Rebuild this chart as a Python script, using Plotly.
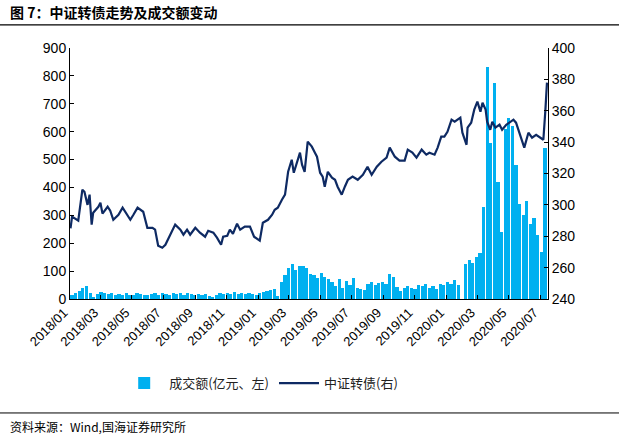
import plotly.graph_objects as go
import pandas as pd

# weekly turnover (亿元), Friday of each week starting 2018-01-05
bar_start = "2018-01-05"
turnover = [
    15, 20, 28, 40, 45, 22, 8, 18, 25, 20, 18, 22, 15, 18, 14, 20, 16, 15, 20, 17,
    13, 14, 18, 22, 16, 20, 18, 15, 21, 17, 20, 16, 22, 18, 15, 17, 14, 19, 12, 8,
    16, 20, 18, 22, 19, 24, 18, 20, 17, 22, 19, 15,
    22, 25, 28, 32, 35, 10, 60, 85, 110, 125, 105, 118, 120, 110, 90, 85, 75, 92,
    80, 70, 60, 45, 70, 40, 65, 50, 75, 40, 35, 32, 55, 60, 52, 58, 62, 55, 88, 80,
    42, 30, 38, 45, 40, 35, 50, 45, 55, 40, 48, 35, 55, 50,
    60, 55, 68, 50, None, 125, 140, 130, 150, 165, 330, 833, 560, 775, 420, 240,
    610, 650, 620, 480, 340, 300, 350, 270, 290, 230, 170, 540,
]

# 中证转债 index
index_dates = [
    "2018-01-02", "2018-01-05", "2018-01-17", "2018-01-25", "2018-01-29", "2018-02-04",
    "2018-02-08", "2018-02-12", "2018-02-15", "2018-02-25", "2018-03-01", "2018-03-05",
    "2018-03-15", "2018-03-20", "2018-03-26", "2018-04-05", "2018-04-13", "2018-04-22",
    "2018-04-28", "2018-05-04", "2018-05-12", "2018-05-23", "2018-05-31", "2018-06-10",
    "2018-06-15", "2018-06-21", "2018-06-29", "2018-07-05", "2018-07-14", "2018-07-24",
    "2018-08-03", "2018-08-09", "2018-08-16", "2018-08-22", "2018-09-01", "2018-09-10",
    "2018-09-20", "2018-09-26", "2018-10-06", "2018-10-13", "2018-10-21", "2018-10-25",
    "2018-11-02", "2018-11-07", "2018-11-13", "2018-11-21", "2018-11-27", "2018-12-06",
    "2018-12-16", "2018-12-24", "2019-01-04", "2019-01-10", "2019-01-20", "2019-01-28",
    "2019-02-02", "2019-02-08", "2019-02-16", "2019-02-22", "2019-02-28", "2019-03-07",
    "2019-03-11", "2019-03-17", "2019-03-23", "2019-03-27", "2019-04-01", "2019-04-07",
    "2019-04-15", "2019-04-21", "2019-04-25", "2019-05-01", "2019-05-06", "2019-05-10",
    "2019-05-16", "2019-05-24", "2019-05-30", "2019-06-04", "2019-06-12", "2019-06-18",
    "2019-06-24", "2019-07-03", "2019-07-13", "2019-07-23", "2019-08-01", "2019-08-09",
    "2019-08-19", "2019-08-28", "2019-09-07", "2019-09-13", "2019-09-23", "2019-10-02",
    "2019-10-12", "2019-10-18", "2019-10-27", "2019-11-04", "2019-11-14", "2019-11-23",
    "2019-11-29", "2019-12-09", "2019-12-15", "2019-12-22", "2019-12-28", "2020-01-03",
    "2020-01-11", "2020-01-17", "2020-01-22", "2020-01-28", "2020-02-01", "2020-02-09",
    "2020-02-11", "2020-02-18", "2020-02-24", "2020-03-01", "2020-03-07", "2020-03-11",
    "2020-03-17", "2020-03-20", "2020-03-26", "2020-03-30", "2020-04-05", "2020-04-13",
    "2020-04-18", "2020-04-26", "2020-05-02", "2020-05-10", "2020-05-15", "2020-05-21",
    "2020-05-31", "2020-06-08", "2020-06-15", "2020-06-23", "2020-06-29", "2020-07-07",
    "2020-07-11", "2020-07-14",
]
index_values = [
    285, 292.5, 290, 309.7, 308.4, 300, 306.5, 287.4, 295, 298.8, 301.4, 294.4,
    298.8, 296.3, 290.5, 293.7, 298.2, 293.7, 290.5, 293.7, 298.2, 295.6, 285.4, 285.4,
    284.2, 274, 272.7, 274.6, 281, 287.4, 284.2, 281, 284.2, 281, 285.4, 282.3,
    279.7, 283.5, 282.3, 279.1, 274.6, 279.7, 280.3, 284.2, 281.6, 288, 284.2, 286.1,
    286.1, 279.7, 277.2, 288.6, 290.5, 293.7, 296.9, 298.2, 303.3, 306.5, 321.1, 328.8,
    320.5, 327.5, 333.3, 325.6, 321.1, 340.3, 337.1, 333.3, 330.7, 320.5, 318, 311.6,
    321.1, 317.3, 316, 311.6, 306.5, 311.6, 316, 318, 316, 319.2, 324.3, 319.2,
    324.3, 327.5, 330.1, 336.5, 330.7, 328.2, 328.2, 335.2, 333.3, 330.1, 335.2, 332,
    333.2, 332, 336.5, 343.5, 343.5, 346.6, 354.3, 353, 354.3, 355.6, 346, 338.3,
    349.2, 352.4, 360.7, 365.8, 359.4, 365.1, 360.7, 353, 347.9, 353, 349.2, 351.1,
    347.9, 351.1, 352.4, 354.3, 352.4, 346.6, 336.5, 346, 342.8, 344.7, 343.5, 341.5,
    360.7, 377.9,
]

BAR_COLOR = "#00B0F0"
LINE_COLOR = "#0E2A63"
NUM_FONT = "Arial, Liberation Sans, sans-serif"
CJK_FONT = "Noto Sans CJK SC"

bar_dates = pd.date_range(bar_start, periods=len(turnover), freq="7D")

fig = go.Figure()
fig.add_trace(go.Bar(
    x=bar_dates, y=turnover, name="成交额(亿元、左)",
    marker=dict(color=BAR_COLOR, line=dict(width=0)),
    width=6.2 * 86400000,
))
fig.add_trace(go.Scatter(
    x=index_dates, y=index_values, name="中证转债(右)", yaxis="y2",
    mode="lines", line=dict(color=LINE_COLOR, width=2.2),
))

fig.update_layout(
    width=619, height=438,
    margin=dict(l=70, r=71, t=48, b=139),
    paper_bgcolor="white", plot_bgcolor="white",
    showlegend=True,
    legend=dict(orientation="h", x=0.40, xanchor="center", y=-0.335, yanchor="middle",
                font=dict(family=CJK_FONT, size=13, color="#222"), itemwidth=40),
    xaxis=dict(
        type="date", range=["2018-01-01", "2020-07-16"],
        tick0="2018-01-01", dtick="M2", tickformat="%Y/%m", tickangle=-45,
        showline=True, linecolor="black", linewidth=1, showgrid=False,
        ticks="inside", ticklen=4, tickcolor="black", ticklabelshift=-6,
        tickfont=dict(family=NUM_FONT, size=13, color="black"),
    ),
    yaxis=dict(
        range=[0, 900], dtick=100, showline=True, linecolor="black", linewidth=1,
        showgrid=False, zeroline=False, ticks="inside", ticklen=4, tickcolor="black",
        tickfont=dict(family=NUM_FONT, size=14, color="black"),
    ),
    yaxis2=dict(
        range=[240, 400], dtick=20, overlaying="y", side="right",
        showline=True, linecolor="black", linewidth=1, showgrid=False, zeroline=False,
        ticks="inside", ticklen=4, tickcolor="black",
        tickfont=dict(family=NUM_FONT, size=14, color="black"),
    ),
    bargap=0,
)

# header / footer rules and text
fig.add_shape(type="line", xref="paper", yref="paper", x0=-0.147, x1=1.15,
              y0=1.092, y1=1.092, line=dict(color="black", width=1.2))
fig.add_shape(type="line", xref="paper", yref="paper", x0=-0.147, x1=1.15,
              y0=-0.454, y1=-0.454, line=dict(color="black", width=1))
fig.add_annotation(xref="paper", yref="paper", x=-0.13, y=1.143, xanchor="left",
                   yanchor="middle", showarrow=False,
                   text="<b>图 7：中证转债走势及成交额变动</b>",
                   font=dict(family=CJK_FONT, size=14, color="black"))
fig.add_annotation(xref="paper", yref="paper", x=-0.13, y=-0.506, xanchor="left",
                   yanchor="middle", showarrow=False,
                   text="资料来源：Wind,国海证券研究所",
                   font=dict(family=CJK_FONT, size=12, color="black"))

# page body has a default 8px margin; drop it so the figure fills the window
fig.write_html("out.html", config={"displayModeBar": False},
               post_script="document.body.style.margin='0';")
